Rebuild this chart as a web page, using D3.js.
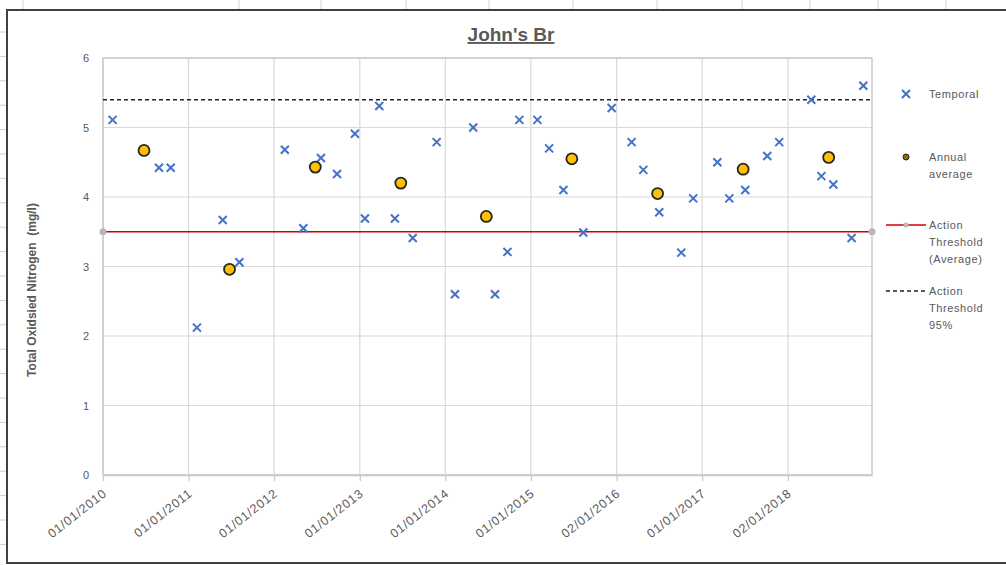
<!DOCTYPE html>
<html>
<head>
<meta charset="utf-8">
<script src="https://cdn.jsdelivr.net/npm/d3@7"></script>
<style>
  body { margin: 0; background: #fff; }
  text { font-family: "Liberation Sans", Arial, sans-serif; fill: #595959; }
</style>
</head>
<body>
<div id="chart"></div>
<script>
// Data
var temporalDates = ['2010-02-11','2010-08-28','2010-10-17','2011-02-06','2011-05-27','2011-08-06',
  '2012-02-16','2012-05-05','2012-07-19','2012-09-26','2012-12-11','2013-01-23','2013-03-25',
  '2013-05-31','2013-08-15','2013-11-25','2014-02-11','2014-04-30','2014-08-01','2014-09-23',
  '2014-11-13','2015-01-29','2015-03-20','2015-05-20','2015-08-13','2015-12-12','2016-03-06',
  '2016-04-25','2016-07-02','2016-10-04','2016-11-24','2017-03-07','2017-04-27','2017-07-04',
  '2017-10-06','2017-11-26','2018-04-12','2018-05-25','2018-07-15','2018-10-01','2018-11-20']
var temporalValues = [5.11,4.42,4.42,2.12,3.67,3.06,4.68,3.55,4.56,4.33,4.91,3.69,5.31,3.69,3.41,
  4.79,2.60,5.00,2.60,3.21,5.11,5.11,4.70,4.10,3.49,5.28,4.79,4.39,3.78,3.20,3.98,4.50,3.98,
  4.10,4.59,4.79,5.40,4.30,4.18,3.41,5.60]
var annualDates = ['2010-06-25','2011-06-25','2012-06-25','2013-06-25','2014-06-25','2015-06-25',
  '2016-06-25','2017-06-25','2018-06-25']
var annualValues = [4.67,2.96,4.43,4.20,3.72,4.55,4.05,4.40,4.57]
var thresholdAverage = 3.5
var threshold95 = 5.4
var xDomain = ['2010-01-01', '2018-12-27']
var xTicks = ['2010-01-01','2011-01-01','2012-01-01','2013-01-01','2014-01-01','2015-01-01',
  '2016-01-02','2017-01-01','2018-01-02']
var yTicks = [0, 1, 2, 3, 4, 5, 6]

var parse = d3.utcParse('%Y-%m-%d')
var fmt = d3.utcFormat('%d/%m/%Y')

// Dimensions
var width = 1006
var height = 565
var margin = { top: 58, right: 134, bottom: 90, left: 103 }
var chartWidth = width - margin.left - margin.right
var chartHeight = height - margin.top - margin.bottom

var svg = d3.select('#chart').append('svg')
  .attr('width', width)
  .attr('height', height)

// Spreadsheet cells peeking around the chart object
var gSheet = svg.append('g')
var colTicks = [23, 239, 321, 406, 489, 573, 657, 742, 810, 878, 946]
gSheet.selectAll('.colTick').data(colTicks).enter().append('line')
  .attr('x1', function (d) { return d }).attr('x2', function (d) { return d })
  .attr('y1', 0).attr('y2', 9)
  .attr('stroke', '#d0d0d0')
var rowTicks = d3.range(32, 565, 24.4)
gSheet.selectAll('.rowTick').data(rowTicks).enter().append('line')
  .attr('y1', function (d) { return d }).attr('y2', function (d) { return d })
  .attr('x1', 0).attr('x2', 6)
  .attr('stroke', '#d0d0d0')

// Chart object border
svg.append('rect')
  .attr('x', 7).attr('y', 10)
  .attr('width', 1010).attr('height', 553)
  .attr('fill', '#fff')
  .attr('stroke', '#404040')
  .attr('stroke-width', 2)

// Scales
var xScale = d3.scaleUtc().domain(xDomain.map(parse)).range([0, chartWidth])
var yScale = d3.scaleLinear().domain([0, 6]).range([chartHeight, 0])

var g = svg.append('g')
  .attr('transform', 'translate(' + margin.left + ',' + margin.top + ')')

// Gridlines
g.append('g').selectAll('line').data(yTicks).enter().append('line')
  .attr('x1', 0).attr('x2', chartWidth)
  .attr('y1', function (d) { return yScale(d) }).attr('y2', function (d) { return yScale(d) })
  .attr('stroke', '#d9d9d9').attr('stroke-width', 1.2)
g.append('g').selectAll('line').data(xTicks).enter().append('line')
  .attr('x1', function (d) { return xScale(parse(d)) }).attr('x2', function (d) { return xScale(parse(d)) })
  .attr('y1', 0).attr('y2', chartHeight)
  .attr('stroke', '#d9d9d9').attr('stroke-width', 1.2)

// Plot area frame
g.append('rect')
  .attr('width', chartWidth).attr('height', chartHeight)
  .attr('fill', 'none').attr('stroke', '#c8c8c8').attr('stroke-width', 1.4)

// Axes
var yAxis = d3.axisLeft(yScale).tickValues(yTicks).tickFormat(d3.format('d'))
  .tickSize(0).tickPadding(14)
g.append('g').call(yAxis)
  .call(function (s) { s.select('.domain').remove() })
  .selectAll('text')
  .style('font-size', '11px').style('fill', '#595959')
  .attr('font-family', null)

var xAxis = d3.axisBottom(xScale)
  .tickValues(xTicks.map(parse))
  .tickFormat(fmt)
  .tickSize(6).tickSizeOuter(0)
var gx = g.append('g').attr('transform', 'translate(0,' + chartHeight + ')').call(xAxis)
gx.select('.domain').attr('stroke', '#c8c8c8').attr('stroke-width', 1.4)
gx.selectAll('.tick line').attr('stroke', '#c8c8c8').attr('stroke-width', 1.2)
gx.selectAll('text')
  .attr('font-family', null)
  .style('font-size', '12.5px').style('fill', '#595959')
  .style('letter-spacing', '0.8px')
  .attr('text-anchor', 'end')
  .attr('dy', null).attr('y', 0)
  .attr('transform', 'translate(4,20) rotate(-38)')

// Threshold lines
g.append('line')
  .attr('x1', 0).attr('x2', chartWidth)
  .attr('y1', yScale(threshold95)).attr('y2', yScale(threshold95))
  .attr('stroke', '#222').attr('stroke-width', 1.5).attr('stroke-dasharray', '4,3')
g.append('line')
  .attr('x1', 0).attr('x2', chartWidth)
  .attr('y1', yScale(thresholdAverage)).attr('y2', yScale(thresholdAverage))
  .attr('stroke', '#d00000').attr('stroke-width', 1.6)
g.selectAll('.thrDot').data([0, chartWidth]).enter().append('circle')
  .attr('cx', function (d) { return d }).attr('cy', yScale(thresholdAverage))
  .attr('r', 3.5).attr('fill', '#b8b8b8')

// Temporal X markers
var xPath = 'M-4,-4L4,4M-4,4L4,-4'
g.selectAll('.temporal').data(temporalDates).enter().append('path')
  .attr('class', 'temporal')
  .attr('d', xPath)
  .attr('transform', function (d, i) {
    return 'translate(' + xScale(parse(d)) + ',' + yScale(temporalValues[i]) + ')'
  })
  .attr('stroke', '#4472c4').attr('stroke-width', 2).attr('fill', 'none')

// Annual average circles
g.selectAll('.annual').data(annualDates).enter().append('circle')
  .attr('class', 'annual')
  .attr('cx', function (d) { return xScale(parse(d)) })
  .attr('cy', function (d, i) { return yScale(annualValues[i]) })
  .attr('r', 5.5)
  .attr('fill', '#ffc000').attr('stroke', '#262626').attr('stroke-width', 1.8)

// Title
svg.append('text')
  .attr('x', 511).attr('y', 41)
  .attr('text-anchor', 'middle')
  .style('font-size', '19px').style('font-weight', 'bold')
  .style('text-decoration', 'underline')
  .text("John's Br")

// Y axis title
svg.append('text')
  .attr('transform', 'translate(36,290) rotate(-90)')
  .attr('text-anchor', 'middle')
  .style('font-size', '12px').style('font-weight', 'bold')
  .style('white-space', 'pre')
  .attr('xml:space', 'preserve')
  .text('Total Oxidsied Nitrogen  (mg/l)')

// Legend
var legend = svg.append('g')
var lx = 906
var tx = 929
legend.append('path').attr('d', xPath)
  .attr('transform', 'translate(' + lx + ',94)')
  .attr('stroke', '#4472c4').attr('stroke-width', 2).attr('fill', 'none')
legend.append('circle').attr('cx', lx).attr('cy', 157).attr('r', 3)
  .attr('fill', '#8a6a00').attr('stroke', '#262626').attr('stroke-width', 1)
legend.append('line').attr('x1', 886).attr('x2', 926).attr('y1', 225).attr('y2', 225)
  .attr('stroke', '#d00000').attr('stroke-width', 1.6)
legend.append('circle').attr('cx', lx).attr('cy', 225).attr('r', 2.5).attr('fill', '#b8b8b8')
legend.append('line').attr('x1', 886).attr('x2', 926).attr('y1', 291).attr('y2', 291)
  .attr('stroke', '#222').attr('stroke-width', 1.5).attr('stroke-dasharray', '4,3')

var legendText = [
  { y: 98, lines: ['Temporal'] },
  { y: 161, lines: ['Annual', 'average'] },
  { y: 229, lines: ['Action', 'Threshold', '(Average)'] },
  { y: 295, lines: ['Action', 'Threshold', '95%'] }
]
legendText.forEach(function (item) {
  item.lines.forEach(function (l, i) {
    legend.append('text')
      .attr('x', tx).attr('y', item.y + i * 17)
      .style('font-size', '11px').style('letter-spacing', '0.6px')
      .text(l)
  })
})
</script>
</body>
</html>
